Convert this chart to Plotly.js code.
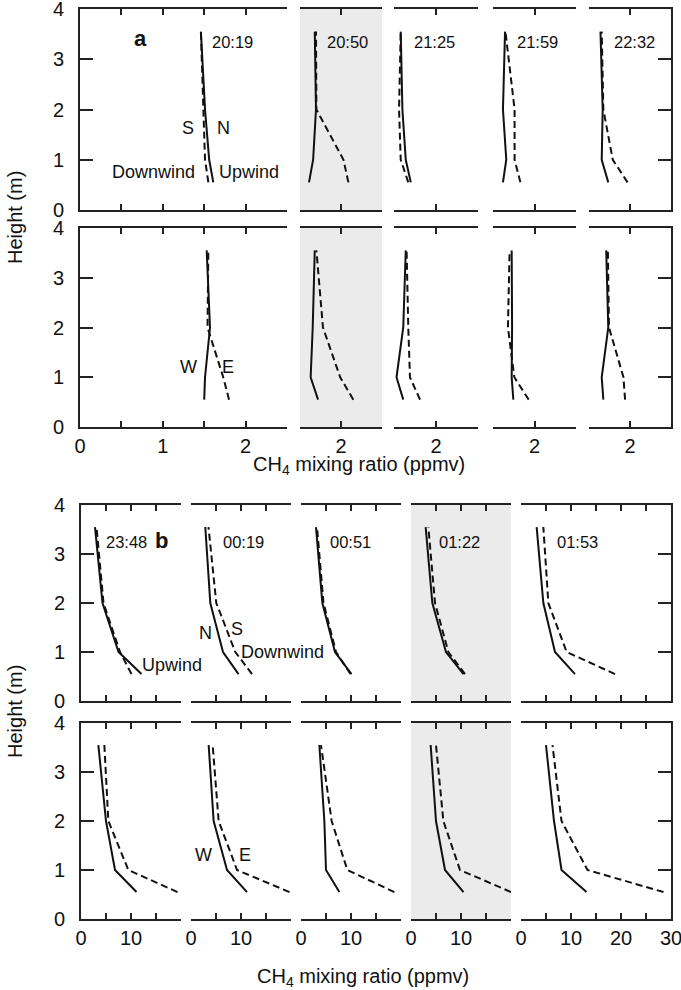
<!DOCTYPE html>
<html>
<head>
<meta charset="utf-8">
<script src="https://cdn.plot.ly/plotly-3.0.1.min.js"></script>
<style>html,body{margin:0;padding:0;background:#fff;}#chart{width:681px;height:990px;}</style>
</head>
<body>
<div id="chart"></div>
<script>
// Sampling heights (m)
const heights = [0.55, 1, 2, 3.55];

// Panel times
const timesA = ['20:19', '20:50', '21:25', '21:59', '22:32'];
const timesB = ['23:48', '00:19', '00:51', '01:22', '01:53'];

// Section a, CH4 (ppmv) at heights [0.55, 1, 2, 3.55]
const aNorth = [[1.61, 1.56, 1.51, 1.46], [1.61, 1.66, 1.695, 1.68], [1.70, 1.64, 1.60, 1.58], [1.62, 1.66, 1.62, 1.645], [1.735, 1.655, 1.667, 1.64]];
const aSouth = [[1.55, 1.51, 1.49, 1.46], [2.09, 2.03, 1.70, 1.695], [1.67, 1.58, 1.56, 1.58], [1.83, 1.76, 1.76, 1.65], [1.97, 1.79, 1.675, 1.655]];
const aWest  = [[1.50, 1.51, 1.57, 1.53], [1.72, 1.63, 1.655, 1.68], [1.61, 1.53, 1.61, 1.64], [1.745, 1.725, 1.73, 1.725], [1.675, 1.655, 1.735, 1.71]];
const aEast  = [[1.80, 1.73, 1.54, 1.55], [2.15, 1.99, 1.78, 1.70], [1.81, 1.69, 1.67, 1.65], [1.93, 1.757, 1.68, 1.70], [1.94, 1.92, 1.744, 1.73]];

// Section b
const bNorth = [[12.1, 7.5, 4.3, 2.8], [9.5, 6.4, 3.86, 2.86], [10.1, 6.8, 4.27, 3.0], [10.5, 7.0, 4.27, 2.93], [10.8, 6.8, 4.47, 3.13]];
const bSouth = [[10.1, 7.8, 4.5, 3.1], [12.2, 8.86, 5.06, 3.5], [9.9, 7.0, 4.5, 3.2], [10.8, 7.47, 4.8, 3.47], [18.8, 9.13, 5.47, 4.47]];
const bWest  = [[11.1, 6.8, 5.0, 3.47], [11.2, 7.2, 4.53, 3.53], [7.67, 5.0, 4.67, 3.67], [10.5, 6.8, 5.0, 3.93], [13.1, 8.1, 6.6, 5.0]];
const bEast  = [[19.3, 9.47, 5.47, 4.67], [19.7, 9.2, 5.53, 4.33], [18.67, 9.27, 6.13, 4.0], [20.0, 9.8, 6.47, 5.0], [28.5, 13.3, 8.1, 6.3]];

// Axis ranges / ticks
const aRanges = [[0, 2.5], [1.5, 2.5], [1.5, 2.5], [1.5, 2.5], [1.5, 2.5]];
const aTickVals = [[0, 0.5, 1, 1.5, 2, 2.5], [1.5, 2, 2.5], [1.5, 2, 2.5], [1.5, 2, 2.5], [1.5, 2, 2.5]];
const aTickText = [['0', '', '1', '', '2', ''], ['', '2', ''], ['', '2', ''], ['', '2', ''], ['', '2', '']];
const bRanges = [[0, 20], [0, 20], [0, 20], [0, 20], [0, 30]];
const bTickVals = [[0, 5, 10, 15, 20], [0, 5, 10, 15, 20], [0, 5, 10, 15, 20], [0, 5, 10, 15, 20], [0, 5, 10, 15, 20, 25, 30]];
const bTickText = [['0', '', '10', '', ''], ['0', '', '10', '', ''], ['0', '', '10', '', ''], ['0', '', '10', '', ''], ['0', '', '10', '', '20', '', '30']];
const yTicks = [0, 1, 2, 3, 4];

const shadedA = 1, shadedB = 3;

// ---- layout geometry (pixels) ----
const W = 681, H = 990;
const aCols = [[80, 287], [300, 382], [394, 478], [493, 576], [589, 671]];
const bCols = [[81, 181], [191, 291], [301, 401], [411, 511], [521, 671]];
const rowsPx = [[9, 210], [228, 427], [505, 701], [723, 919]];

const px = v => v / W;
const py = v => 1 - v / H;

const FONT = 'Liberation Sans, Arial, Helvetica, sans-serif';
const INK = '#111111';
const AX = '#222222';

const traces = [];
const layout = {
  width: W, height: H,
  margin: {l: 0, r: 0, t: 0, b: 0},
  paper_bgcolor: '#ffffff',
  plot_bgcolor: 'rgba(0,0,0,0)',
  showlegend: false,
  font: {family: FONT, color: INK, size: 20},
  shapes: [],
  annotations: []
};

const rows = [
  {cols: aCols, ranges: aRanges, tv: aTickVals, tt: aTickText, solid: aNorth, dashed: aSouth, bottom: false, shaded: shadedA},
  {cols: aCols, ranges: aRanges, tv: aTickVals, tt: aTickText, solid: aWest, dashed: aEast, bottom: true, shaded: shadedA},
  {cols: bCols, ranges: bRanges, tv: bTickVals, tt: bTickText, solid: bNorth, dashed: bSouth, bottom: false, shaded: shadedB},
  {cols: bCols, ranges: bRanges, tv: bTickVals, tt: bTickText, solid: bWest, dashed: bEast, bottom: true, shaded: shadedB}
];

let n = 0;
rows.forEach((row, r) => {
  const [top, bot] = rowsPx[r];
  for (let c = 0; c < 5; c++) {
    n++;
    const xid = n === 1 ? 'x' : 'x' + n;
    const yid = n === 1 ? 'y' : 'y' + n;
    const xname = n === 1 ? 'xaxis' : 'xaxis' + n;
    const yname = n === 1 ? 'yaxis' : 'yaxis' + n;
    const [x0, x1] = row.cols[c];
    layout[xname] = {
      domain: [px(x0), px(x1)],
      range: row.ranges[c],
      anchor: yid,
      tickmode: 'array',
      tickvals: row.tv[c],
      ticktext: row.tt[c],
      showticklabels: row.bottom,
      ticklabeloverflow: 'allow',
      ticks: 'inside', ticklen: 6, tickwidth: 2, tickcolor: AX,
      showline: true, linecolor: AX, linewidth: 2, mirror: 'ticks',
      showgrid: false, zeroline: false, fixedrange: true,
      tickfont: {family: FONT, size: 20, color: INK}
    };
    const ya = {
      domain: [py(bot), py(top)],
      range: [0, 4],
      anchor: xid,
      showgrid: false, zeroline: false, fixedrange: true
    };
    if (c === 0) {
      Object.assign(ya, {
        side: 'left', tickmode: 'array', tickvals: yTicks,
        ticks: 'inside', ticklen: 13, tickwidth: 2, tickcolor: AX,
        showline: true, linecolor: AX, linewidth: 2,
        ticklabelstandoff: 10, ticklabeloverflow: 'allow',
        tickfont: {family: FONT, size: 20, color: INK}
      });
    } else if (c === 4) {
      Object.assign(ya, {
        side: 'right', tickmode: 'array', tickvals: yTicks, showticklabels: false,
        ticks: 'inside', ticklen: 13, tickwidth: 2, tickcolor: AX,
        showline: true, linecolor: AX, linewidth: 2
      });
    } else {
      ya.visible = false;
    }
    layout[yname] = ya;

    if (c === row.shaded) {
      layout.shapes.push({
        type: 'rect', xref: xid + ' domain', yref: yid + ' domain',
        x0: 0, x1: 1, y0: 0, y1: 1,
        fillcolor: '#ebebeb', line: {width: 0}, layer: 'below'
      });
    }

    traces.push({
      type: 'scatter', mode: 'lines', x: row.solid[c], y: heights,
      xaxis: xid, yaxis: yid,
      line: {color: INK, width: 2}, hoverinfo: 'skip'
    });
    traces.push({
      type: 'scatter', mode: 'lines', x: row.dashed[c], y: heights,
      xaxis: xid, yaxis: yid,
      line: {color: INK, width: 2, dash: '7px,4px'}, hoverinfo: 'skip'
    });
  }
});

function ann(text, x, y, opts) {
  layout.annotations.push(Object.assign({
    text: text, xref: 'paper', yref: 'paper', x: px(x), y: py(y),
    xanchor: 'center', yanchor: 'middle', showarrow: false,
    font: {family: FONT, size: 18, color: INK}
  }, opts || {}));
}

// time labels
const tA = [210, 325, 412, 515, 612];
timesA.forEach((t, i) => ann(t, tA[i], 42, {xanchor: 'left', font: {family: FONT, size: 16.5, color: INK}}));
const tB = [104, 221, 328, 437, 555];
timesB.forEach((t, i) => ann(t, tB[i], 542, {xanchor: 'left', font: {family: FONT, size: 16.5, color: INK}}));

ann('<b>a</b>', 140, 38, {font: {family: FONT, size: 22, color: INK}});
ann('<b>b</b>', 161, 540, {font: {family: FONT, size: 22, color: INK}});

ann('S', 188, 128); ann('N', 223, 128);
ann('Downwind', 153, 172); ann('Upwind', 249, 172);
ann('W', 188, 367); ann('E', 228, 367);

ann('N', 205, 633); ann('S', 237, 629);
ann('Upwind', 172, 665); ann('Downwind', 282, 652);
ann('W', 203, 855); ann('E', 245, 855);

ann('CH<sub>4</sub> mixing ratio (ppmv)', 359, 465, {font: {family: FONT, size: 20, color: INK}});
ann('CH<sub>4</sub> mixing ratio (ppmv)', 363, 977, {font: {family: FONT, size: 20, color: INK}});
ann('Height (m)', 15, 218, {textangle: -90, font: {family: FONT, size: 20, color: INK}});
ann('Height (m)', 15, 712, {textangle: -90, font: {family: FONT, size: 20, color: INK}});

Plotly.newPlot('chart', traces, layout, {staticPlot: true, displayModeBar: false});
</script>
</body>
</html>
